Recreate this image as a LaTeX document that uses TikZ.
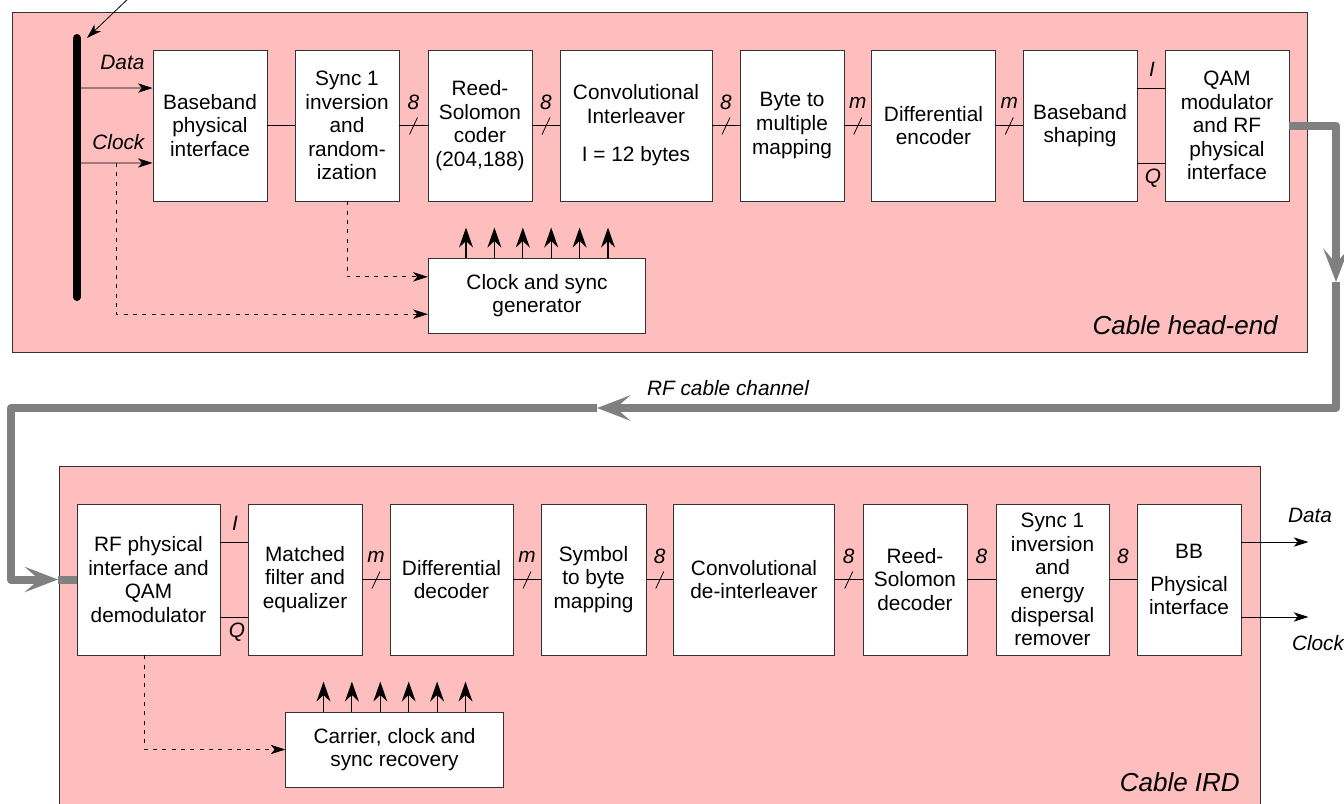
\documentclass[tikz,border=0pt]{standalone}
\usepackage{fontspec}
\setmainfont{Liberation Sans}
\usetikzlibrary{arrows.meta,calc}

\definecolor{panelpink}{RGB}{255,190,190}
\definecolor{cablegray}{RGB}{128,128,128}

\begin{document}
\begin{tikzpicture}[x=0.75pt,y=-0.75pt,
    blk/.style={draw=black!80, fill=white, line width=0.6pt, align=center,
      inner sep=2pt, font=\fontsize{15.6}{17.7}\selectfont,
      minimum width=#1*0.75pt, minimum height=113.25pt},
    genbox/.style={draw=black!80, fill=white, line width=0.6pt, align=center,
      font=\fontsize{15.6}{17.7}\selectfont,
      minimum width=217.5*0.75pt, minimum height=75*0.75pt},
    panel/.style={draw=black!80, fill=panelpink, line width=0.6pt},
    wire/.style={draw=black, line width=0.6pt},
    sig/.style={wire, -{Stealth[length=11pt,width=7pt,inset=3pt]}},
    dsh/.style={sig, dash pattern=on 3pt off 4pt},
    upar/.style={line width=0.8pt, -{Stealth[length=15pt,width=10.5pt,inset=5pt]}},
    cable/.style={draw=cablegray, line width=6pt, line join=round},
    cablehead/.style={cable, -{Stealth[length=25pt,width=19pt,inset=11pt]}},
    tag/.style={font=\fontsize{15.6}{17.7}\selectfont\itshape, inner sep=1pt},
    title/.style={font=\fontsize{19.5}{22}\selectfont\itshape, anchor=east, inner sep=0pt}]

  \useasboundingbox (0,0) rectangle (1344,803);

  % two panels
  \draw[panel] (12,12) rectangle (1307,352);
  \draw[panel] (59,466) rectangle (1260,812);
  \node[title] (headend) at (1278,325) {Cable head-end};
  \node[title] (ird) at (1240,782) {Cable IRD};

  % head-end chain
  \node[blk=114] (bbpi)  at (210,125.5)    {Baseband\\physical\\interface};
  \node[blk=104] (sync)  at (347,125.5)    {Sync 1\\inversion\\and\\random-\\ization};
  \node[blk=104] (rs)    at (480,125.5)    {Reed-\\Solomon\\coder\\(204,188)};
  \node[blk=152] (conv)  at (636,125.5)    {Convolutional\\Interleaver\\[11pt]I = 12 bytes};
  \node[blk=104] (byte)  at (792,125.5)    {Byte to\\multiple\\mapping};
  \node[blk=124] (diff)  at (933.5,125.5)  {Differential\\encoder};
  \node[blk=114] (shape) at (1080,125.5)   {Baseband\\shaping};
  \node[blk=124] (qam)   at (1227,125.5)   {QAM\\modulator\\and RF\\physical\\interface};
  \node[genbox]  (gen)   at (537,295.5)    {Clock and sync\\generator};

  % IRD chain
  \node[blk=143] (rfd)   at (148.5,579.5)  {RF physical\\interface and\\QAM\\demodulator};
  \node[blk=114] (mf)    at (305,579.5)    {Matched\\filter and\\equalizer};
  \node[blk=123] (dd)    at (451.5,579.5)  {Differential\\decoder};
  \node[blk=105] (sb)    at (593.5,579.5)  {Symbol\\to byte\\mapping};
  \node[blk=161] (cd)    at (754,579.5)    {Convolutional\\de-interleaver};
  \node[blk=104] (rsd)   at (915,579.5)    {Reed-\\Solomon\\decoder};
  \node[blk=113] (sy)    at (1052.5,579.5) {Sync 1\\inversion\\and\\energy\\dispersal\\remover};
  \node[blk=104] (bb)    at (1189,579.5)   {BB\\[7pt]Physical\\interface};
  \node[genbox]  (rec)   at (394.5,749.5)  {Carrier, clock and\\sync recovery};

  % input bus and its signals
  \coordinate (bartop) at (77,38);
  \coordinate (barbot) at (77,297);
  \coordinate (src) at (131,-4);
  \coordinate (din) at (80,88);
  \coordinate (cin) at (80,163);
  \coordinate (ctap) at (116,163);
  \draw[line width=6pt, line cap=round] (bartop) -- (barbot);
  \draw[sig] (src) -- ([shift={(10,0)}]bartop);
  \draw[sig] (din) -- ([yshift=28.1pt]bbpi.west);
  \draw[sig] (cin) -- ([yshift=-28.1pt]bbpi.west);
  \node[tag, anchor=east] (ldata) at (146,62) {Data};
  \node[tag, anchor=east] (lclock) at (146,142) {Clock};
  \draw[dsh] (ctap) |- ([yshift=-14pt]gen.west);
  \draw[dsh] (sync.south) |- ([yshift=14pt]gen.west);
  \draw[dsh] ([xshift=-3pt]rfd.south) |- (rec.west);

  % plain links
  \draw[wire] (bbpi.east) -- (sync.west);
  \draw[wire] (rsd.east) -- coordinate (busrsd) (sy.west);
  \draw[wire] (sy.east) -- coordinate (bussy) (bb.west);
  \node[tag] (trsd) at ([shift={(0,-23)}]busrsd) {8};
  \node[tag] (tsy) at ([shift={(0,-23)}]bussy) {8};

  % links with bus width marks
  \foreach \a/\b/\t in {sync/rs/8, rs/conv/8, conv/byte/8, byte/diff/m, diff/shape/m,
                        mf/dd/m, dd/sb/m, sb/cd/8, cd/rsd/8} {
    \draw[wire] (\a.east) -- coordinate (bus\a) (\b.west);
    \draw[wire] ([shift={(-4,9)}]bus\a) -- ([shift={(4,-8)}]bus\a);
    \node[tag] (t\a) at ([shift={(0,-23)}]bus\a) {\t};
  }

  % I and Q
  \draw[wire] ([yshift=28.1pt]shape.east) -- coordinate (ihe) ([yshift=28.1pt]qam.west);
  \draw[wire] ([yshift=-28.1pt]shape.east) -- coordinate (qhe) ([yshift=-28.1pt]qam.west);
  \draw[wire] ([yshift=28.1pt]rfd.east) -- coordinate (iird) ([yshift=28.1pt]mf.west);
  \draw[wire] ([yshift=-28.1pt]rfd.east) -- coordinate (qird) ([yshift=-28.1pt]mf.west);
  \node[tag] (lihe) at ([shift={(1,-19)}]ihe) {I};
  \node[tag] (lqhe) at ([shift={(2,15)}]qhe) {Q};
  \node[tag] (liird) at ([shift={(1,-19)}]iird) {I};
  \node[tag] (lqird) at ([shift={(3,15)}]qird) {Q};

  % sync outputs
  \foreach \i in {-2.5,-1.5,...,2.5} {
    \draw[upar] ([xshift=\i*21.3pt]gen.north) -- ++(0,-30);
    \draw[upar] ([xshift=\i*21.3pt]rec.north) -- ++(0,-30);
  }

  % outputs
  \draw[sig] ([yshift=28.1pt]bb.east) -- +(67,0) coordinate (dout);
  \draw[sig] ([yshift=-28.1pt]bb.east) -- +(67,0) coordinate (cout);
  \node[tag] (odata) at (1310,515) {Data};
  \node[tag] (oclock) at (1318,643) {Clock};

  % RF cable channel
  \coordinate (c1) at (1336,125.5);
  \coordinate (c2) at (1336,282);
  \coordinate (c3) at (1336,408);
  \coordinate (c4) at (597,408);
  \coordinate (c5) at (11,408);
  \coordinate (c6) at (11,579.5);
  \coordinate (c7) at (58,579.5);
  \draw[cablehead] (qam.east) -- (c1) -- (c2);
  \draw[cablehead] (c2) -- (c3) -- (c4);
  \draw[cablehead] (c4) -- (c5) -- (c6) -- (c7);
  \draw[cable] (c7) -- (rfd.west);
  \node[tag] (lrf) at (728,388) {RF cable channel};
\end{tikzpicture}
\end{document}
